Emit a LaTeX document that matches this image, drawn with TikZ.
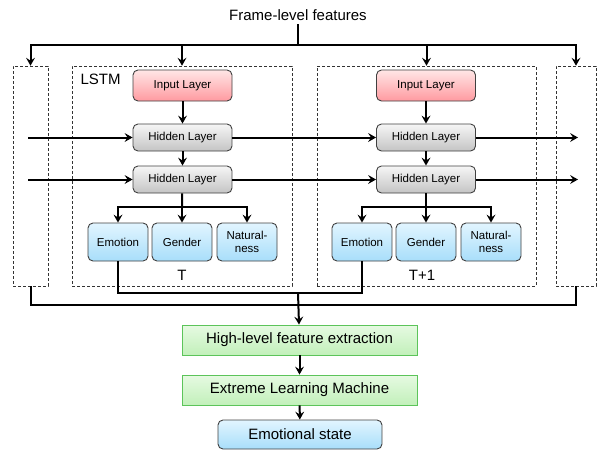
\documentclass[tikz,border=0pt]{standalone}
\usepackage{fontspec}
\setmainfont{Liberation Sans}
\usetikzlibrary{arrows.meta}
\definecolor{inTop}{HTML}{FFE6E6}
\definecolor{inBot}{HTML}{FF9AA0}
\definecolor{hidTop}{HTML}{F6F6F6}
\definecolor{hidBot}{HTML}{C4C4C4}
\definecolor{bluTop}{HTML}{E2F5FF}
\definecolor{bluBot}{HTML}{A8DEFA}
\definecolor{grnTop}{HTML}{E6FAE2}
\definecolor{grnBot}{HTML}{C2F0BA}
\definecolor{grnLine}{HTML}{5CC45A}
\tikzset{
  layer/.style={draw=black!75, line width=0.9pt, rounded corners=5pt,
    minimum width=99pt, minimum height=27pt, inner sep=1pt,
    font=\fontsize{11.5}{13}\selectfont, align=center},
  inlayer/.style={layer, minimum height=31pt, top color=inTop, bottom color=inBot},
  hidlayer/.style={layer, top color=hidTop, bottom color=hidBot},
  outlayer/.style={layer, minimum width=60pt, minimum height=38pt, top color=bluTop, bottom color=bluBot},
  stage/.style={draw=grnLine, line width=0.9pt, minimum width=235pt, minimum height=30pt,
    top color=grnTop, bottom color=grnBot, font=\fontsize{15}{18}\selectfont},
  frame/.style={draw=black!80, densely dashed, line width=0.6pt, minimum height=220pt, inner sep=0pt},
  link/.style={line width=2pt},
  flow/.style={link, -{Stealth[length=8pt,width=9pt,inset=3pt,line width=0pt]}},
  big/.style={font=\fontsize{15}{18}\selectfont}
}
\begin{document}
\begin{tikzpicture}[x=1pt,y=-1pt]
      \useasboundingbox (0,0) rectangle (597,451);
      \node[big] (feat) at (298,15) {Frame-level features};
      \node[frame, minimum width=35pt] (boxL) at (30.5,176) {};
      \node[frame, minimum width=220pt] (lstmA) at (182,176) {};
      \node[frame, minimum width=219pt] (lstmB) at (426.5,176) {};
      \node[frame, minimum width=40pt] (boxR) at (576,176) {};
      \node[big, anchor=west] (lstm) at (77,79) {LSTM};
      \node[big] (tA) at (182,275) {T};
      \node[big] (tB) at (422,275) {T+1};
      \node[inlayer] (inA) at (182.5,85.5) {Input Layer};
      \node[hidlayer] (h1A) at (182.5,137.5) {Hidden Layer};
      \node[hidlayer] (h2A) at (182.5,179.5) {Hidden Layer};
      \node[outlayer] (emoA) at (118,242) {Emotion};
      \node[outlayer] (genA) at (182,242) {Gender};
      \node[outlayer] (natA) at (247,242) {Natural-\\ness};
      \node[inlayer] (inB) at (426,85.5) {Input Layer};
      \node[hidlayer] (h1B) at (426,137.5) {Hidden Layer};
      \node[hidlayer] (h2B) at (426,179.5) {Hidden Layer};
      \node[outlayer] (emoB) at (362,242) {Emotion};
      \node[outlayer] (genB) at (426,242) {Gender};
      \node[outlayer] (natB) at (491,242) {Natural-\\ness};
      \node[stage] (hlf) at (299.5,340) {High-level feature extraction};
      \node[stage] (elm) at (299.5,390) {Extreme Learning Machine};
      \node[outlayer, minimum width=164pt, minimum height=29pt, font=\fontsize{15}{18}\selectfont] (state) at (300,434.5) {Emotional state};
      \coordinate (split) at (298,45);
      \coordinate (brA) at (182,207);
      \coordinate (brB) at (426,207);
      \coordinate (inL1) at (28,137.5);
      \coordinate (inL2) at (28,179.5);
      \coordinate (outR1) at (578,137.5);
      \coordinate (outR2) at (578,179.5);
      \coordinate (mergeA) at (298,293);
      \coordinate (mergeB) at (298,305);
      \draw[line width=2.6pt] (feat) -- (split);
      \draw[flow] (split) -| (boxL);
      \draw[flow] (split) -| (lstmA);
      \draw[flow] (split) -| (lstmB);
      \draw[flow] (split) -| (boxR);
      \draw[flow] (inA) -- (h1A);
      \draw[flow] (h1A) -- (h2A);
      \draw[flow] (inB) -- (h1B);
      \draw[flow] (h1B) -- (h2B);
      \draw[flow] (inL1) -- (h1A);
      \draw[flow] (inL2) -- (h2A);
      \draw[flow] (h1A) -- (h1B);
      \draw[flow] (h2A) -- (h2B);
      \draw[flow] (h1B) -- (outR1);
      \draw[flow] (h2B) -- (outR2);
      \draw[link] (h2A) -- (brA);
      \draw[flow] (brA) -| (emoA);
      \draw[flow] (brA) -- (genA);
      \draw[flow] (brA) -| (natA);
      \draw[link] (h2B) -- (brB);
      \draw[flow] (brB) -| (emoB);
      \draw[flow] (brB) -- (genB);
      \draw[flow] (brB) -| (natB);
      \draw[link] (emoA) |- (mergeA);
      \draw[link] (emoB) |- (mergeA);
      \draw[link] (boxL) |- (mergeB);
      \draw[link] (boxR) |- (mergeB);
      \draw[flow] (mergeA) -- (hlf);
      \draw[flow] (hlf) -- (elm);
      \draw[flow] (elm) -- (state);
    \end{tikzpicture}
\end{document}
